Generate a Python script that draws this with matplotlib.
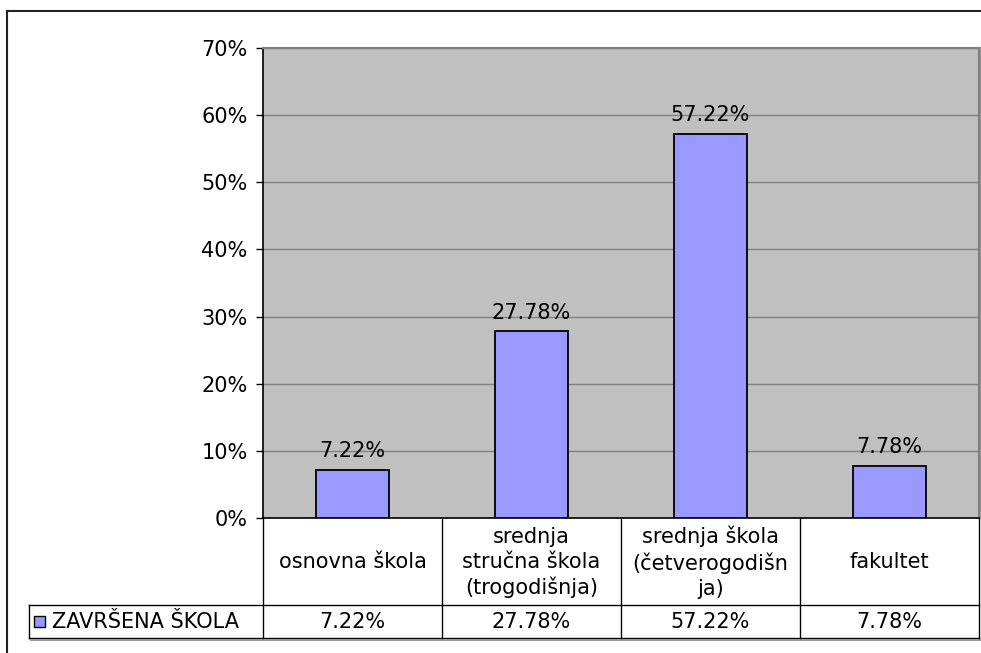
"""Bar chart with data table: completed school level (Excel-style)."""

import matplotlib
matplotlib.use("Agg")
import matplotlib.pyplot as plt
from matplotlib.patches import Rectangle
from matplotlib.lines import Line2D

# data
categories = [
    "osnovna škola",
    "srednja\nstručna škola\n(trogodišnja)",
    "srednja škola\n(četverogodišn\nja)",
    "fakultet",
]
values = [7.22, 27.78, 57.22, 7.78]
series_name = "ZAVRŠENA ŠKOLA"
y_ticks = [0, 10, 20, 30, 40, 50, 60, 70]

W, H = 981, 653
BAR_COLOR = "#9999FF"
FS = 15

plt.rcParams["font.family"] = ["DejaVu Sans"]

fig = plt.figure(figsize=(W / 100, H / 100), dpi=100)
fig.patch.set_facecolor("white")

# plot area in pixel layout
left, right, top, bottom = 263, 979, 48, 518
ax = fig.add_axes([left / W, 1 - bottom / H, (right - left) / W, (bottom - top) / H])
ax.set_facecolor("#C0C0C0")

xs = list(range(len(values)))
ax.bar(xs, values, width=0.41, color=BAR_COLOR, edgecolor="black", linewidth=1.3, zorder=3)
for x, v in zip(xs, values):
    ax.text(x, v + 1.3, f"{v:.2f}%", ha="center", va="bottom", fontsize=FS, zorder=4)

ax.set_xlim(-0.5, len(values) - 0.5)
ax.set_ylim(0, 70)
ax.set_yticks(y_ticks)
ax.set_yticklabels([f"{t}%" for t in y_ticks], fontsize=FS)
ax.tick_params(axis="y", length=5, width=1, pad=6, color="black")
ax.set_xticks([])
ax.yaxis.grid(True, color="#808080", linewidth=1)
ax.set_axisbelow(True)
for s in ("top", "right"):
    ax.spines[s].set_color("#808080")
    ax.spines[s].set_linewidth(1.5)
ax.spines["left"].set_color("black")
ax.spines["bottom"].set_color("black")
ax.spines["left"].set_linewidth(1.2)
ax.spines["bottom"].set_linewidth(1.2)

# overlay in pixel coordinates for frame and data table
ov = fig.add_axes([0, 0, 1, 1], zorder=-1)
ov.set_xlim(0, W)
ov.set_ylim(H, 0)
ov.axis("off")

# outer chart frame (cut off at right and bottom)
ov.add_line(Line2D([7, W + 5], [11, 11], color="#222222", lw=1.5))
ov.add_line(Line2D([7, 7], [11, H + 5], color="#222222", lw=1.5))

# table geometry
row_mid, row_bot = 605, 638
leg_left = 29
col_w = (right - left) / len(categories)
bounds = [left + i * col_w for i in range(len(categories) + 1)]

ov.add_line(Line2D([leg_left, right], [row_mid, row_mid], color="black", lw=1))
ov.add_line(Line2D([leg_left, right], [row_bot, row_bot], color="black", lw=1))
ov.add_line(Line2D([leg_left + 2, right + 2], [row_bot + 2, row_bot + 2], color="#999999", lw=1.5))
ov.add_line(Line2D([right + 1.5, right + 1.5], [top, bottom], color="#999999", lw=1.5))
ov.add_line(Line2D([leg_left, leg_left], [row_mid, row_bot], color="black", lw=1))
for b in bounds:
    ov.add_line(Line2D([b, b], [bottom, row_bot], color="black", lw=1))

for i, (cat, v) in enumerate(zip(categories, values)):
    cx = (bounds[i] + bounds[i + 1]) / 2
    ov.text(cx, (bottom + row_mid) / 2 + 1, cat, ha="center", va="center",
            fontsize=FS, linespacing=1.3)
    ov.text(cx, (row_mid + row_bot) / 2 + 1, f"{v:.2f}%", ha="center", va="center", fontsize=FS)

# legend key in table
ov.add_patch(Rectangle((34, 616), 11, 11, facecolor=BAR_COLOR, edgecolor="black", lw=1))
ov.text(52, (row_mid + row_bot) / 2 + 1, series_name, ha="left", va="center", fontsize=FS)

fig.savefig("out.png", dpi=100)
